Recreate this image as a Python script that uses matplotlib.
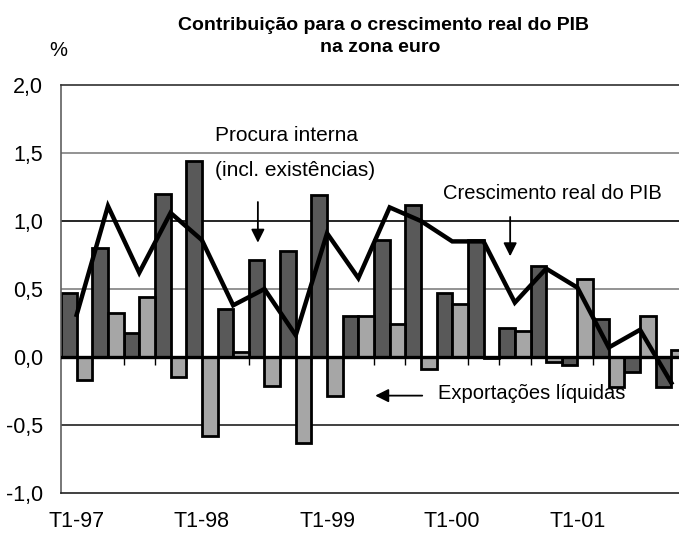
import numpy as np
import matplotlib
matplotlib.use("Agg")
import matplotlib.pyplot as plt
from matplotlib.ticker import FuncFormatter

plt.rcParams['font.family'] = ['Liberation Sans Narrow', 'Liberation Sans', 'DejaVu Sans']

# quarterly data T1-97 .. T4-01
quarters = ['T1-97', 'T2-97', 'T3-97', 'T4-97',
            'T1-98', 'T2-98', 'T3-98', 'T4-98',
            'T1-99', 'T2-99', 'T3-99', 'T4-99',
            'T1-00', 'T2-00', 'T3-00', 'T4-00',
            'T1-01', 'T2-01', 'T3-01', 'T4-01']
domestic = [0.47, 0.80, 0.18, 1.20, 1.44, 0.35, 0.71, 0.78, 1.19, 0.30,
            0.86, 1.12, 0.47, 0.86, 0.21, 0.67, -0.06, 0.28, -0.11, -0.22]
net_exports = [-0.17, 0.32, 0.44, -0.15, -0.58, 0.04, -0.21, -0.63, -0.29, 0.30,
               0.24, -0.09, 0.39, -0.01, 0.19, -0.04, 0.57, -0.22, 0.30, 0.05]
gdp = [0.31, 1.11, 0.62, 1.06, 0.86, 0.38, 0.50, 0.16, 0.91, 0.58,
       1.10, 1.00, 0.85, 0.85, 0.40, 0.65, 0.51, 0.07, 0.20, -0.19]

x = np.arange(len(quarters))

fig = plt.figure(figsize=(6.79, 5.37), dpi=100)
# plot area runs slightly past the right edge of the picture (cropped like the original)
ax = fig.add_axes([61/679, 1-493/537, 626/679, 408/537])

ax.set_ylim(-1.0, 2.0)
ax.set_xlim(-0.5, len(quarters) - 0.5)

# gridlines
for v, c in [(1.5, '#808080'), (1.0, '#000000'), (0.5, '#808080'), (-0.5, '#202020')]:
    ax.axhline(v, color=c, lw=1.2, zorder=0)

ax.bar(x - 0.25, domestic, width=0.5, color='#595959', edgecolor='black', linewidth=2.0, zorder=2)
ax.bar(x + 0.25, net_exports, width=0.5, color='#a6a6a6', edgecolor='black', linewidth=2.0, zorder=2)

ax.axhline(0, color='black', lw=2.4, zorder=3)
ax.vlines(x[:-1] + 0.5, -0.06, 0, color='black', lw=1.0, zorder=1)

ax.plot(x, gdp, color='black', lw=3.2, zorder=4, solid_joinstyle='miter')

# axes styling
ax.spines['right'].set_visible(False)
ax.spines['left'].set_color('#606060')
ax.spines['top'].set_color('#303030')
ax.spines['bottom'].set_color('#202020')
for s in ['left', 'top', 'bottom']:
    ax.spines[s].set_linewidth(1.2)

ax.set_yticks([-1.0, -0.5, 0.0, 0.5, 1.0, 1.5, 2.0])
ax.yaxis.set_major_formatter(FuncFormatter(lambda v, p: ('%.1f' % v).replace('.', ',')))
ax.tick_params(axis='y', length=0, pad=13, labelsize=15.5)

ax.set_xticks(x[::4])
ax.set_xticklabels(quarters[::4])
ax.tick_params(axis='x', length=0, pad=13, labelsize=15.5)

# titles
fig.text(383/679, 1-26/537, 'Contribuição para o crescimento real do PIB',
         ha='center', va='center', fontsize=14, fontweight='bold')
fig.text(380/679, 1-47/537, 'na zona euro',
         ha='center', va='center', fontsize=14, fontweight='bold')
fig.text(58/679, 1-51/537, '%', ha='center', va='center', fontsize=14.5)

# annotations
ax.text(4.42, 1.627, 'Procura interna', ha='left', va='center', fontsize=15)
ax.text(4.42, 1.375, '(incl. existências)', ha='left', va='center', fontsize=15)
ax.annotate('', xy=(5.79, 0.82), xytext=(5.79, 1.16),
            arrowprops=dict(arrowstyle='-|>', color='black', lw=1.3, mutation_scale=20))

ax.text(11.70, 1.205, 'Crescimento real do PIB', ha='left', va='center', fontsize=14.5)
ax.annotate('', xy=(13.85, 0.72), xytext=(13.85, 1.05),
            arrowprops=dict(arrowstyle='-|>', color='black', lw=1.3, mutation_scale=20))

ax.text(11.54, -0.265, 'Exportações líquidas', ha='left', va='center', fontsize=14.5)
ax.annotate('', xy=(9.45, -0.284), xytext=(11.13, -0.284),
            arrowprops=dict(arrowstyle='-|>', color='black', lw=1.3, mutation_scale=20))

fig.savefig('out.png', dpi=100)
